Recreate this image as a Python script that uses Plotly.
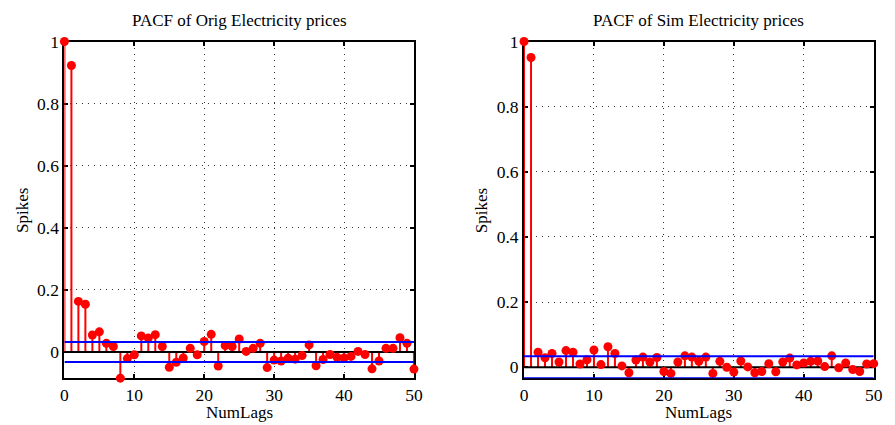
import plotly.graph_objects as go

# Partial autocorrelation values, lags 0..50
lags = list(range(51))
pacf_orig = [1.0, 0.923, 0.163, 0.154, 0.055, 0.065, 0.028, 0.018, -0.084, -0.021,
             -0.009, 0.052, 0.045, 0.056, 0.018, -0.049, -0.033, -0.019, 0.012, -0.009,
             0.034, 0.057, -0.045, 0.021, 0.018, 0.042, 0.002, 0.012, 0.028, -0.050,
             -0.026, -0.029, -0.020, -0.023, -0.011, 0.023, -0.044, -0.024, -0.008, -0.017,
             -0.019, -0.014, 0.002, -0.008, -0.054, -0.029, 0.012, 0.012, 0.046, 0.028,
             -0.055]
pacf_sim = [1.0, 0.951, 0.046, 0.029, 0.042, 0.016, 0.051, 0.046, 0.010, 0.023,
            0.053, 0.008, 0.063, 0.042, 0.004, -0.017, 0.022, 0.031, 0.016, 0.030,
            -0.013, -0.019, 0.016, 0.035, 0.031, 0.018, 0.031, -0.019, 0.018, 0.000,
            -0.015, 0.019, 0.001, -0.017, -0.013, 0.011, -0.014, 0.016, 0.028, 0.007,
            0.013, 0.018, 0.019, 0.002, 0.035, -0.002, 0.013, -0.007, -0.013, 0.010,
            0.011]
bound_orig = 0.032
bound_sim = 0.0335
titles = ["PACF of Orig Electricity prices", "PACF of Sim Electricity prices"]
y_ticks = [0, 0.2, 0.4, 0.6, 0.8, 1]
x_ticks = [0, 10, 20, 30, 40, 50]

W, H = 895, 425
FONT = "Liberation Serif"

fig = go.Figure()


def px_x(x):
    return x / W


def px_y(y):
    return 1 - y / H


panels = [
    dict(vals=pacf_orig, bound=bound_orig, ymin=-0.084, xa="x", ya="y",
         xdom=(61.3, 416.0), ylab_x=18),
    dict(vals=pacf_sim, bound=bound_sim, ymin=-0.0335, xa="x2", ya="y2",
         xdom=(527.7, 882.5), ylab_x=484),
]

for i, p in enumerate(panels):
    sx, sy = [], []
    for lag, v in zip(lags, p["vals"]):
        sx += [lag, lag, None]
        sy += [0, v, None]
    # stems
    fig.add_trace(go.Scatter(x=sx, y=sy, mode="lines", xaxis=p["xa"], yaxis=p["ya"],
                             cliponaxis=False,
                             line=dict(color="#ff0000", width=2), showlegend=False,
                             hoverinfo="skip"))
    # baseline
    fig.add_trace(go.Scatter(x=[lags[0], lags[-1]], y=[0, 0], mode="lines",
                             xaxis=p["xa"], yaxis=p["ya"],
                             line=dict(color="black", width=2), showlegend=False))
    # stem heads
    fig.add_trace(go.Scatter(x=lags, y=p["vals"], mode="markers", xaxis=p["xa"],
                             yaxis=p["ya"], cliponaxis=False,
                             marker=dict(color="#ff0000", size=9, line=dict(width=0)),
                             showlegend=False))
    # confidence bounds
    for b in (p["bound"], -p["bound"]):
        fig.add_trace(go.Scatter(x=[lags[0], lags[-1]], y=[b, b], mode="lines",
                                 xaxis=p["xa"], yaxis=p["ya"], cliponaxis=False,
                                 line=dict(color="#0000ff", width=2), showlegend=False))

    axis_common = dict(showline=True, linecolor="black", linewidth=2, mirror="ticks",
                       ticks="inside", ticklen=4, tickwidth=2, tickcolor="black",
                       showgrid=True, gridcolor="#333333", gridwidth=1,
                       griddash="1px,5px", zeroline=False, layer="below traces",
                       tickfont=dict(family=FONT, size=17.5, color="black"))
    xkey = "xaxis" if i == 0 else "xaxis2"
    ykey = "yaxis" if i == 0 else "yaxis2"
    fig.update_layout({
        xkey: dict(axis_common, domain=[px_x(p["xdom"][0]), px_x(p["xdom"][1])],
                   range=[0, 50], tickvals=x_ticks, anchor=p["ya"]),
        ykey: dict(axis_common, domain=[px_y(377.0), px_y(32.3)],
                   range=[p["ymin"], 1], tickvals=y_ticks, anchor=p["xa"]),
    })

    cx = (p["xdom"][0] + p["xdom"][1]) / 2
    fig.add_annotation(x=px_x(cx), y=px_y(11), xref="paper", yref="paper",
                       xanchor="center", yanchor="middle",
                       text=titles[i], showarrow=False,
                       font=dict(family=FONT, size=17, color="black"))
    fig.add_annotation(x=px_x(cx), y=px_y(412), xref="paper", yref="paper",
                       xanchor="center", yanchor="middle",
                       text="NumLags", showarrow=False,
                       font=dict(family=FONT, size=17, color="black"))
    fig.add_annotation(x=px_x(p["ylab_x"]), y=px_y(205), xref="paper", yref="paper",
                       xanchor="center", yanchor="middle",
                       text="Spikes", showarrow=False, textangle=-90,
                       font=dict(family=FONT, size=17, color="black"))

fig.update_layout(width=W, height=H, margin=dict(l=0, r=0, t=0, b=0),
                  paper_bgcolor="white", plot_bgcolor="white")

fig.write_html("out.html")
